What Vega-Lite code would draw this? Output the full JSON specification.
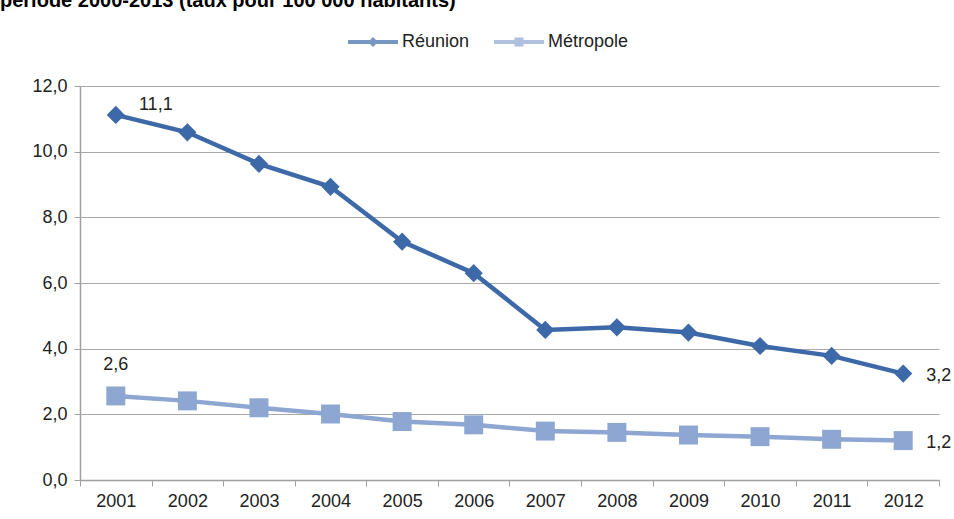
{
  "$schema": "https://vega.github.io/schema/vega-lite/v6.json",
  "width": 859,
  "height": 394,
  "autosize": {"type": "none"},
  "padding": {"left": 80, "top": 86, "right": 15, "bottom": 39},
  "background": "white",
  "title": {
    "text": "période 2000-2013 (taux pour 100 000 habitants)",
    "anchor": "start",
    "frame": "group",
    "font": "Liberation Sans",
    "fontSize": 20,
    "fontWeight": "bold",
    "color": "#000000",
    "baseline": "alphabetic",
    "dx": -80,
    "dy": 10,
    "offset": 0
  },
  "config": {
    "locale": {"number": {"decimal": ",", "thousands": " ", "grouping": [3], "currency": ["", " €"]}},
    "view": {"stroke": null},
    "font": "Liberation Sans",
    "axis": {
      "labelFont": "Liberation Sans",
      "labelFontSize": 18,
      "labelColor": "#222222",
      "domainColor": "#a0a0a0",
      "tickColor": "#a0a0a0",
      "gridColor": "#a8a8a8",
      "title": null
    },
    "legend": {
      "title": null,
      "orient": "none",
      "direction": "horizontal",
      "padding": 0,
      "symbolSize": 2500,
      "symbolStrokeWidth": 0,
      "labelFontSize": 18,
      "labelFont": "Liberation Sans",
      "labelColor": "#222222",
      "labelOffset": 4,
      "columnPadding": 24
    }
  },
  "data": {
    "values": [
      {"annee": "2001", "serie": "Réunion", "taux": 11.12},
      {"annee": "2002", "serie": "Réunion", "taux": 10.59},
      {"annee": "2003", "serie": "Réunion", "taux": 9.63},
      {"annee": "2004", "serie": "Réunion", "taux": 8.93},
      {"annee": "2005", "serie": "Réunion", "taux": 7.26},
      {"annee": "2006", "serie": "Réunion", "taux": 6.30},
      {"annee": "2007", "serie": "Réunion", "taux": 4.57},
      {"annee": "2008", "serie": "Réunion", "taux": 4.65},
      {"annee": "2009", "serie": "Réunion", "taux": 4.49},
      {"annee": "2010", "serie": "Réunion", "taux": 4.08},
      {"annee": "2011", "serie": "Réunion", "taux": 3.78},
      {"annee": "2012", "serie": "Réunion", "taux": 3.24},
      {"annee": "2001", "serie": "Métropole", "taux": 2.56},
      {"annee": "2002", "serie": "Métropole", "taux": 2.41},
      {"annee": "2003", "serie": "Métropole", "taux": 2.20},
      {"annee": "2004", "serie": "Métropole", "taux": 2.01},
      {"annee": "2005", "serie": "Métropole", "taux": 1.78},
      {"annee": "2006", "serie": "Métropole", "taux": 1.68},
      {"annee": "2007", "serie": "Métropole", "taux": 1.49},
      {"annee": "2008", "serie": "Métropole", "taux": 1.45},
      {"annee": "2009", "serie": "Métropole", "taux": 1.37},
      {"annee": "2010", "serie": "Métropole", "taux": 1.32},
      {"annee": "2011", "serie": "Métropole", "taux": 1.24},
      {"annee": "2012", "serie": "Métropole", "taux": 1.20}
    ]
  },
  "encoding": {
    "x": {
      "field": "annee",
      "type": "ordinal",
      "scale": {"type": "band", "paddingInner": 0, "paddingOuter": 0},
      "axis": {"labelAngle": 0, "tickBand": "extent", "tickSize": 6, "labelPadding": 6, "grid": false, "domainWidth": 1.5}
    },
    "y": {
      "field": "taux",
      "type": "quantitative",
      "scale": {"domain": [0, 12], "nice": false, "zero": true},
      "axis": {"values": [0, 2, 4, 6, 8, 10, 12], "format": ".1f", "tickSize": 6, "labelPadding": 7, "grid": true, "domainWidth": 1.5}
    }
  },
  "layer": [
    {
      "mark": {"type": "point", "filled": true, "size": 1},
      "encoding": {
        "color": {
          "field": "serie",
          "type": "nominal",
          "scale": {"domain": ["Réunion", "Métropole"], "range": ["#3d69a8", "#8ea6d2"]},
          "legend": {"legendX": 268, "legendY": -69}
        },
        "shape": {
          "field": "serie",
          "type": "nominal",
          "scale": {"domain": ["Réunion", "Métropole"], "range": ["M-1,-0.08H1V0.08H-1Z M0,-0.2L0.2,0L0,0.2L-0.2,0Z", "M-1,-0.08H1V0.08H-1Z M-0.18,-0.18H0.18V0.18H-0.18Z"]},
          "legend": {"legendX": 268, "legendY": -69}
        }
      }
    },
    {
      "mark": {"type": "line", "strokeWidth": 4.5},
      "encoding": {
        "color": {"field": "serie", "type": "nominal", "legend": null}
      }
    },
    {
      "transform": [{"filter": "datum.serie === 'Réunion'"}],
      "mark": {"type": "point", "filled": true, "opacity": 1, "size": 330, "shape": "diamond"},
      "encoding": {
        "color": {"field": "serie", "type": "nominal", "legend": null}
      }
    },
    {
      "transform": [{"filter": "datum.serie === 'Métropole'"}],
      "mark": {"type": "point", "filled": true, "opacity": 1, "size": 360, "shape": "square"},
      "encoding": {
        "color": {"field": "serie", "type": "nominal", "legend": null}
      }
    },
    {
      "transform": [{"filter": "datum.annee === '2001' && datum.serie === 'Réunion'"}],
      "mark": {"type": "text", "dx": 40, "dy": -10, "align": "center", "baseline": "middle", "fontSize": 18, "color": "#222222"},
      "encoding": {"text": {"field": "taux", "type": "quantitative", "format": ".1f"}}
    },
    {
      "transform": [{"filter": "datum.annee === '2001' && datum.serie === 'Métropole'"}],
      "mark": {"type": "text", "dx": 0, "dy": -31, "align": "center", "baseline": "middle", "fontSize": 18, "color": "#222222"},
      "encoding": {"text": {"field": "taux", "type": "quantitative", "format": ".1f"}}
    },
    {
      "transform": [{"filter": "datum.annee === '2012'"}],
      "mark": {"type": "text", "dx": 23, "dy": 2, "align": "left", "baseline": "middle", "fontSize": 18, "color": "#222222"},
      "encoding": {"text": {"field": "taux", "type": "quantitative", "format": ".1f"}}
    }
  ]
}
